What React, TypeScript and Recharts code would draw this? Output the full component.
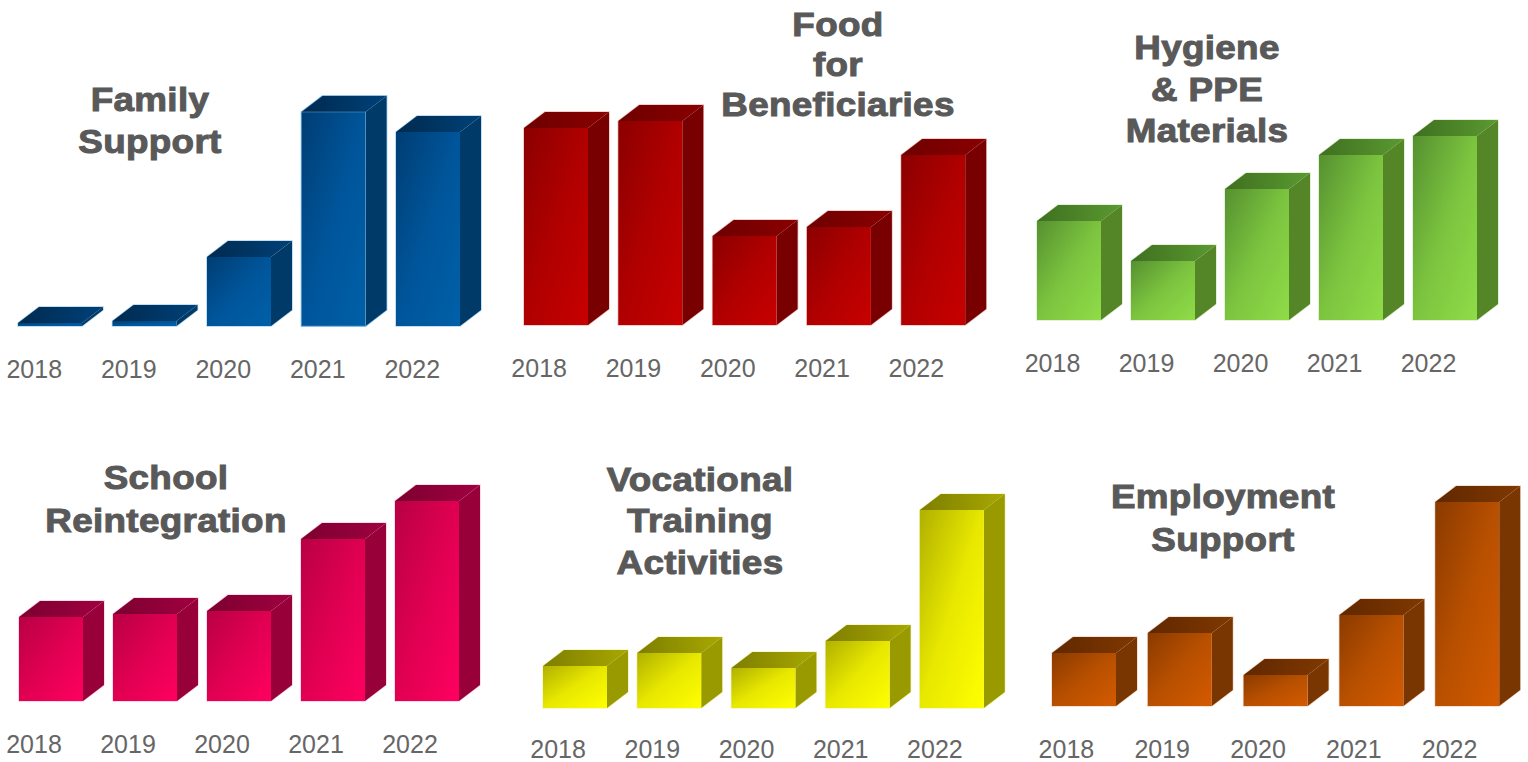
import React from 'react';
import { BarChart, Bar, XAxis, YAxis } from 'recharts';

// no axis in the original so units are arbitrary
const years = ['2018', '2019', '2020', '2021', '2022'];
const familySupport = [3, 5, 69, 214, 194];
const foodBeneficiaries = [197, 204, 89, 98, 170];
const hygienePpe = [99, 59, 131, 165, 184];
const schoolReintegration = [84, 87, 90, 162, 200];
const vocationalTraining = [42, 55, 40, 67, 198];
const employmentSupport = [53, 73, 31, 91, 204];

const BAR_WIDTH = 64;
const DEPTH_X = 21;
const DEPTH_Y = 16;
const PLOT_HEIGHT = 240;
const MARGIN = { top: 20, right: 30, bottom: 0, left: 30 };
const AXIS_HEIGHT = 66;

interface Panel {
    id: string;
    title: string[];
    titleX: number;
    titleY: number[];
    values: number[];
    left: number;
    base: number;
    step: number;
    tickShift: number;
    tickDrop: number;
    front: [string, string, string];
    top: [string, string];
    side: string;
    edge: string;
    strongEdgeYear?: string;
}

const panels: Panel[] = [
    {
        id: 'family', title: ['Family', 'Support'], titleX: 150, titleY: [100, 142],
        values: familySupport, left: 18, base: 326, step: 94.5, tickShift: -16, tickDrop: 44,
        front: ['#003d73', '#00559a', '#0060a8'], top: ['#002a4f', '#004178'], side: '#003a68',
        edge: '#5fa8d8', strongEdgeYear: '2021',
    },
    {
        id: 'food', title: ['Food', 'for', 'Beneficiaries'], titleX: 838, titleY: [25, 65, 105],
        values: foodBeneficiaries, left: 524, base: 325, step: 94.3, tickShift: -17, tickDrop: 44,
        front: ['#8b0000', '#b00000', '#c80000'], top: ['#6e0000', '#8a0000'], side: '#780000',
        edge: '#d88080',
    },
    {
        id: 'hygiene', title: ['Hygiene', '& PPE', 'Materials'], titleX: 1207, titleY: [48, 90, 131],
        values: hygienePpe, left: 1037, base: 320, step: 94, tickShift: -16.5, tickDrop: 44,
        front: ['#559030', '#7cc43f', '#8fdc48'], top: ['#3f6f20', '#5a9a30'], side: '#548526',
        edge: '#b8dc98',
    },
    {
        id: 'school', title: ['School', 'Reintegration'], titleX: 166, titleY: [478, 521],
        values: schoolReintegration, left: 19, base: 701, step: 94, tickShift: -17, tickDrop: 44,
        front: ['#b80044', '#e00052', '#ff0060'], top: ['#7c0030', '#a00040'], side: '#98003a',
        edge: '#f0a0c0',
    },
    {
        id: 'vocational', title: ['Vocational', 'Training', 'Activities'], titleX: 700, titleY: [480, 521, 563],
        values: vocationalTraining, left: 543, base: 708, step: 94.2, tickShift: -17, tickDrop: 42,
        front: ['#b0b000', '#e8e800', '#ffff00'], top: ['#7e7e00', '#a8a800'], side: '#999900',
        edge: '#e8e880',
    },
    {
        id: 'employment', title: ['Employment', 'Support'], titleX: 1223, titleY: [497, 540],
        values: employmentSupport, left: 1052, base: 706, step: 95.8, tickShift: -17.5, tickDrop: 44,
        front: ['#8a3a00', '#b85000', '#d45a00'], top: ['#602800', '#803800'], side: '#7a3600',
        edge: '#e0b090',
    },
];

const Box3D = (props: any) => {
    const { x, y, width, height, id, side, edge, strong } = props;
    const r = x + width;
    const b = y + height;
    const outline = `${x},${y} ${x + DEPTH_X},${y - DEPTH_Y} ${r + DEPTH_X},${y - DEPTH_Y} ${r + DEPTH_X},${b - DEPTH_Y} ${r},${b} ${x},${b}`;
    return (
        <g>
            <polygon points={outline} fill="none" stroke={edge} strokeWidth={1.5} strokeOpacity={strong ? 0.9 : 0.5} />
            <polygon
                points={`${x},${y} ${r},${y} ${r + DEPTH_X},${y - DEPTH_Y} ${x + DEPTH_X},${y - DEPTH_Y}`}
                fill={`url(#${id}-top)`}
            />
            <polygon
                points={`${r},${y} ${r + DEPTH_X},${y - DEPTH_Y} ${r + DEPTH_X},${b - DEPTH_Y} ${r},${b}`}
                fill={side}
            />
            <rect x={x} y={y} width={width} height={height} fill={`url(#${id}-front)`} />
            {strong && <rect x={x} y={y} width={width} height={height} fill="none" stroke={edge} strokeOpacity={0.5} />}
        </g>
    );
};

const YearTick = (props: any) => {
    const { x, y, payload, shift, drop } = props;
    return (
        <text x={x + shift} y={y + drop} textAnchor="middle" fontSize={25} fill="#666666" fontFamily="Liberation Sans">
            {payload.value}
        </text>
    );
};

const SmallChart = ({ panel }: { panel: Panel }) => {
    const data = years.map((year, i) => ({ year, value: panel.values[i] }));
    const plotWidth = panel.step * years.length;
    const chartLeft = panel.left - (panel.step - BAR_WIDTH) / 2 - MARGIN.left;
    const chartTop = panel.base - PLOT_HEIGHT - MARGIN.top;
    return (
        <div style={{ position: 'absolute', left: chartLeft, top: chartTop }}>
            <BarChart
                width={plotWidth + MARGIN.left + MARGIN.right}
                height={PLOT_HEIGHT + MARGIN.top + AXIS_HEIGHT}
                data={data}
                margin={MARGIN}
            >
                <defs>
                    <linearGradient id={`${panel.id}-front`} x1="0" y1="0" x2="1" y2="1">
                        <stop offset="0%" stopColor={panel.front[0]} />
                        <stop offset="50%" stopColor={panel.front[1]} />
                        <stop offset="100%" stopColor={panel.front[2]} />
                    </linearGradient>
                    <linearGradient id={`${panel.id}-top`} x1="0" y1="0" x2="1" y2="0">
                        <stop offset="0%" stopColor={panel.top[0]} />
                        <stop offset="100%" stopColor={panel.top[1]} />
                    </linearGradient>
                </defs>
                <XAxis
                    dataKey="year"
                    height={AXIS_HEIGHT}
                    axisLine={false}
                    tickLine={false}
                    interval={0}
                    tick={<YearTick shift={panel.tickShift} drop={panel.tickDrop} />}
                />
                <YAxis hide domain={[0, PLOT_HEIGHT]} />
                <Bar
                    dataKey="value"
                    barSize={BAR_WIDTH}
                    isAnimationActive={false}
                    shape={(p: any) => (
                        <Box3D
                            {...p}
                            id={panel.id}
                            side={panel.side}
                            edge={panel.edge}
                            strong={p.year === panel.strongEdgeYear}
                        />
                    )}
                />
            </BarChart>
        </div>
    );
};

const App: React.FC = () => (
    <div style={{ position: 'absolute', left: 0, top: 0, width: 1528, height: 762, overflow: 'hidden', background: '#fff' }}>
        {panels.map(panel => (
            <SmallChart key={panel.id} panel={panel} />
        ))}
        {panels.map(panel =>
            panel.title.map((line, i) => (
                <div
                    key={`${panel.id}-${i}`}
                    style={{
                        position: 'absolute',
                        left: panel.titleX - 200,
                        top: panel.titleY[i] - 20,
                        width: 400,
                        height: 40,
                        lineHeight: '40px',
                        textAlign: 'center',
                        fontFamily: 'Liberation Sans',
                        fontWeight: 700,
                        fontSize: 33,
                        letterSpacing: 0.3,
                        color: '#595959',
                        WebkitTextStroke: '1px #595959',
                        transform: 'scaleX(1.115)',
                    }}
                >
                    {line}
                </div>
            ))
        )}
    </div>
);

export default App;
